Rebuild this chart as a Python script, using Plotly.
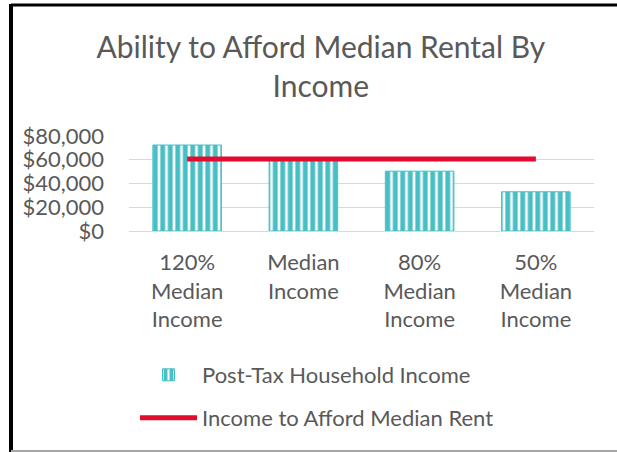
import plotly.graph_objects as go

categories = ["120%<br>Median<br>Income", "Median<br>Income", "80%<br>Median<br>Income", "50%<br>Median<br>Income"]
post_tax_income = [72400, 59500, 50400, 33000]
afford_rent_income = [60600, 60600, 60600, 60600]
y_ticks = [0, 20000, 40000, 60000, 80000]
y_tick_labels = ["$0", "$20,000", "$40,000", "$60,000", "$80,000"]

FONT = "Lato"
TXT = "#595959"
TEAL = "#48BFC4"
RED = "#E30B2E"

fig = go.Figure()
fig.add_trace(go.Bar(
    x=categories, y=post_tax_income, name="Post-Tax Household Income",
    marker=dict(color="white", line=dict(color=TEAL, width=1),
                pattern=dict(shape="|", fgcolor=TEAL, bgcolor="white", size=7.5, solidity=0.65,
                             fillmode="replace")),
    legend="legend",
))
fig.add_trace(go.Scatter(
    x=categories, y=afford_rent_income, name="Income to Afford Median Rent",
    mode="lines", line=dict(color=RED, width=5),
    legend="legend2",
))

fig.update_layout(
    width=617, height=452,
    margin=dict(l=129, r=23, t=136, b=221, autoexpand=False),
    paper_bgcolor="white", plot_bgcolor="white",
    font=dict(family=FONT, color=TXT, size=22),
    title=dict(text="Ability to Afford Median Rental By<br>Income", x=0.52, xanchor="center",
               y=1 - 58 / 452, yanchor="middle", yref="container",
               font=dict(family=FONT, size=30, color=TXT)),
    bargap=0.41,
    showlegend=True,
    legend=dict(xref="container", yref="container", x=135 / 617, y=1 - 375 / 452,
                xanchor="left", yanchor="middle", font=dict(size=22, color=TXT),
                bgcolor="rgba(0,0,0,0)", itemwidth=57),
    legend2=dict(xref="container", yref="container", x=135 / 617, y=1 - 418 / 452,
                 xanchor="left", yanchor="middle", font=dict(size=22, color=TXT),
                 bgcolor="rgba(0,0,0,0)", itemwidth=57),
    xaxis=dict(showgrid=False, showline=False, ticks="", tickfont=dict(size=22, color=TXT),
               tickangle=0, ticklabelstandoff=16),
    yaxis=dict(range=[0, 80000], tickvals=y_ticks, ticktext=y_tick_labels,
               showgrid=True, gridcolor="#D9D9D9", gridwidth=1, zeroline=True,
               zerolinecolor="#D9D9D9", zerolinewidth=1, showline=False, ticks="",
               ticklabelstandoff=24, tickfont=dict(size=22, color=TXT)),
)

# chart border (black left/top, gray bottom)
fig.add_shape(type="line", xref="paper", yref="paper",
              x0=-118 / 465, x1=-118 / 465, y0=(231 - 452) / 95, y1=(231 - 4) / 95,
              line=dict(color="black", width=4))
fig.add_shape(type="line", xref="paper", yref="paper",
              x0=-118 / 465, x1=(617 - 129) / 465, y0=(231 - 5) / 95, y1=(231 - 5) / 95,
              line=dict(color="black", width=3))
fig.add_shape(type="line", xref="paper", yref="paper",
              x0=-118 / 465, x1=(617 - 129) / 465, y0=(231 - 451) / 95, y1=(231 - 451) / 95,
              line=dict(color="#A6A6A6", width=2))

fig.write_html("out.html", config={"displayModeBar": False},
               post_script="document.body.style.margin='0';document.body.style.overflow='hidden';")
